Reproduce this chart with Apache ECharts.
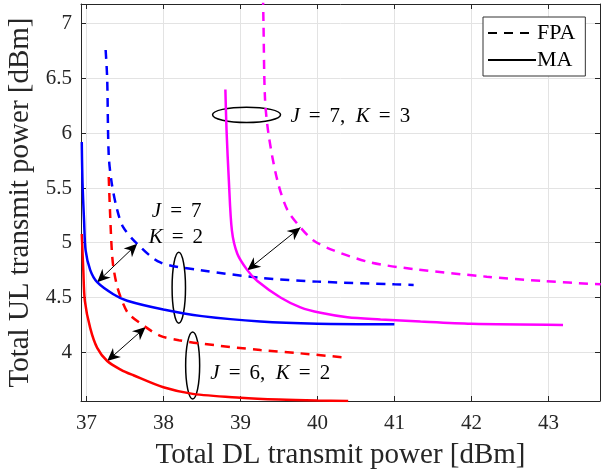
<!DOCTYPE html>
<html lang="en">
<head>
    <meta charset="UTF-8">
    <title>UL vs DL transmit power</title>
    <script src="https://cdn.jsdelivr.net/npm/echarts@6/dist/echarts.min.js"></script>
    <style>
        body { margin: 0; background: #fff; }
    </style>
</head>
<body>
    <div id="main" style="width: 605px;height:472px;"></div>
    <script>
        // curves: [DL power dBm, UL power dBm]
        var ma62 = [[36.94, 5.08], [36.96, 4.75], [36.98, 4.47], [37.05, 4.22], [37.14, 4.04], [37.27, 3.92],
            [37.45, 3.84], [37.61, 3.79], [38.0, 3.68], [38.38, 3.62], [39.0, 3.585], [39.5, 3.568], [40.0, 3.559], [40.4, 3.556]];
        var fpa62 = [[37.29, 5.60], [37.31, 5.23], [37.33, 4.93], [37.35, 4.78], [37.40, 4.60], [37.48, 4.44],
            [37.55, 4.35], [37.77, 4.23], [37.96, 4.15], [38.2, 4.11], [38.48, 4.08], [39.26, 4.02], [39.78, 3.99], [40.39, 3.95]];
        var ma72 = [[36.94, 5.92], [36.95, 5.54], [36.97, 5.2], [36.99, 4.93], [37.05, 4.75], [37.14, 4.64],
            [37.35, 4.53], [37.53, 4.47], [38.0, 4.39], [38.5, 4.33], [39.26, 4.28], [40.0, 4.26], [41.0, 4.255]];
        var fpa72 = [[37.25, 6.76], [37.27, 6.5], [37.29, 5.80], [37.33, 5.54], [37.40, 5.30], [37.48, 5.14],
            [37.66, 4.99], [37.96, 4.82], [38.48, 4.75], [39.26, 4.68], [40.0, 4.645], [41.0, 4.62], [41.25, 4.615]];
        var ma73 = [[38.805, 6.40], [38.82, 6.03], [38.85, 5.57], [38.89, 5.11], [38.96, 4.90], [39.09, 4.75],
            [39.22, 4.65], [39.52, 4.50], [39.78, 4.41], [40.04, 4.36], [40.39, 4.32], [40.82, 4.30], [41.34, 4.28], [42.0, 4.26], [43.19, 4.25]];
        var fpa73 = [[39.29, 7.4], [39.30, 7.0], [39.32, 6.31], [39.37, 5.97], [39.48, 5.57], [39.61, 5.30],
            [39.78, 5.14], [39.95, 5.02], [40.21, 4.93], [40.69, 4.82], [41.25, 4.76], [42.2, 4.69], [42.94, 4.65], [43.68, 4.62]];

        var legendNames = ['FPA', 'MA'];

        // annotations (data coords)
        var arrows = [
            [[37.14, 4.64], [37.66, 4.99]],
            [[37.27, 3.92], [37.77, 4.23]],
            [[39.09, 4.75], [39.78, 5.14]]
        ];
        var ellipses = [
            { at: [39.08, 6.168], rx: 34, ry: 7.7 },
            { at: [38.2, 4.59], rx: 6.7, ry: 35.5 },
            { at: [38.38, 3.88], rx: 7, ry: 33.5 }
        ];
        var labels = [
            { at: [39.65, 6.15], text: '{i|J}{e|=}7,  {i|K}{e|=}3' },
            { at: [37.85, 5.29], text: '{i|J}{e|=}7' },
            { at: [37.81, 5.05], text: '{i|K}{e|=}2' },
            { at: [38.61, 3.81], text: '{i|J}{e|=}6,  {i|K}{e|=}2' }
        ];

        var serif = 'Liberation Serif';
        var dash = [9, 7];

        function curve(name, data, color, dashed) {
            return {
                name: name, type: 'line', data: data, symbol: 'none',
                smooth: 0.3, silent: true,
                itemStyle: { color: color },
                lineStyle: { color: color, width: 2.5, type: dashed ? dash : 'solid' }
            };
        }

        var chart = echarts.init(document.getElementById('main'));

        var axisCommon = {
            axisLine: { show: true, lineStyle: { color: '#262626', width: 1 } },
            axisTick: { show: true, inside: true, length: 5, lineStyle: { color: '#262626' } }
        };

        var option = {
            animation: false,
            grid: { left: 81, right: 5, top: 4, bottom: 71, outerBoundsMode: 'none' },
            legend: {
                data: legendNames,
                orient: 'vertical',
                left: 483, top: 17,
                padding: [4, 10, 4, 4],
                itemGap: 3,
                itemWidth: 48,
                itemHeight: 14,
                itemStyle: { opacity: 0 },
                borderColor: '#333',
                borderWidth: 1,
                backgroundColor: '#fff',
                textStyle: { fontFamily: serif, fontSize: 22, color: '#000', lineHeight: 24, padding: [0, 0, 0, -4] }
            },
            xAxis: [Object.assign({
                type: 'value', min: 36.93, max: 43.67, splitNumber: 7,
                name: 'Total DL transmit power [dBm]', nameLocation: 'middle', nameGap: 40,
                nameTextStyle: { fontFamily: serif, fontSize: 29, color: '#262626' },
                axisLabel: { fontFamily: serif, fontSize: 21, color: '#262626', margin: 12, showMinLabel: false, showMaxLabel: false },
                splitLine: { show: true, lineStyle: { color: '#e3e3e3', width: 1 } }
            }, axisCommon), Object.assign({
                type: 'value', min: 36.93, max: 43.67, splitNumber: 7, position: 'top',
                axisLabel: { show: false }, splitLine: { show: false }
            }, axisCommon)],
            yAxis: [Object.assign({
                type: 'value', min: 3.555, max: 7.18, splitNumber: 7,
                name: 'Total UL transmit power [dBm]', nameLocation: 'middle', nameGap: 39,
                nameTextStyle: { fontFamily: serif, fontSize: 29, color: '#262626' },
                axisLabel: { fontFamily: serif, fontSize: 21, color: '#262626', margin: 9, showMinLabel: false, showMaxLabel: false },
                splitLine: { show: true, lineStyle: { color: '#e3e3e3', width: 1 } }
            }, axisCommon), Object.assign({
                type: 'value', min: 3.555, max: 7.18, splitNumber: 7, position: 'right',
                axisLabel: { show: false }, splitLine: { show: false }
            }, axisCommon)],
            series: [
                curve('FPA', [], '#000', true),
                curve('MA', [], '#000', false),
                curve('fpa62', fpa62, '#ff0000', true),
                curve('ma62', ma62, '#ff0000', false),
                curve('fpa72', fpa72, '#0000ff', true),
                curve('ma72', ma72, '#0000ff', false),
                curve('fpa73', fpa73, '#ff00ff', true),
                curve('ma73', ma73, '#ff00ff', false)
            ]
        };
        chart.setOption(option);

        // annotation overlay
        function px(p) {
            return chart.convertToPixel({ xAxisIndex: 0, yAxisIndex: 0 }, p);
        }

        function arrowHead(tip, from) {
            var dx = tip[0] - from[0], dy = tip[1] - from[1];
            var len = Math.sqrt(dx * dx + dy * dy);
            var ux = dx / len, uy = dy / len;
            var L = 13, W = 6;
            var bx = tip[0] - ux * L, by = tip[1] - uy * L;
            var nx = tip[0] - ux * L * 0.7, ny = tip[1] - uy * L * 0.7;
            return {
                type: 'polygon', silent: true,
                shape: { points: [tip, [bx - uy * W, by + ux * W], [nx, ny], [bx + uy * W, by - ux * W]] },
                style: { fill: '#000' }
            };
        }

        var g = [];
        arrows.forEach(function (a) {
            var p = px(a[0]), q = px(a[1]);
            g.push({ type: 'line', silent: true, shape: { x1: p[0], y1: p[1], x2: q[0], y2: q[1] }, style: { stroke: '#000', lineWidth: 1 } });
            g.push(arrowHead(p, q));
            g.push(arrowHead(q, p));
        });
        ellipses.forEach(function (e) {
            var c = px(e.at);
            g.push({ type: 'ellipse', silent: true, shape: { cx: c[0], cy: c[1], rx: e.rx, ry: e.ry }, style: { fill: null, stroke: '#000', lineWidth: 1.5 } });
        });
        labels.forEach(function (l) {
            var c = px(l.at);
            g.push({
                type: 'text', silent: true, x: c[0], y: c[1],
                style: {
                    text: l.text, fontFamily: serif, fontSize: 21, fill: '#000',
                    verticalAlign: 'middle', align: 'left',
                    rich: {
                        i: { fontStyle: 'italic', fontFamily: serif, fontSize: 21 },
                        e: { fontFamily: serif, fontSize: 21, padding: [0, 9, 0, 9] }
                    }
                }
            });
        });
        chart.setOption({ graphic: g });
    </script>
</body>
</html>
